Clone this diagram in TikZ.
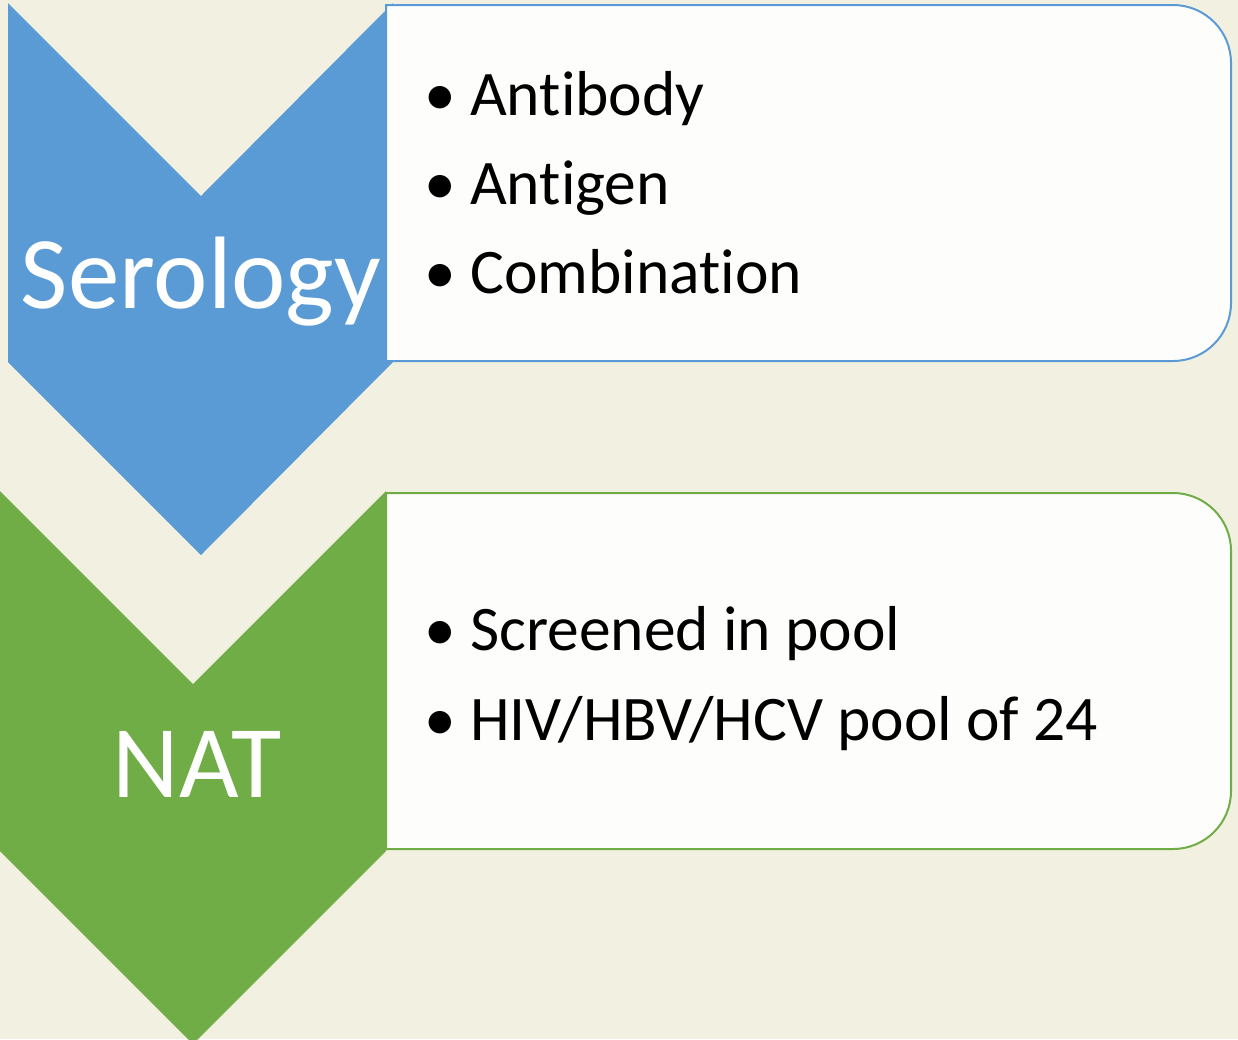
\documentclass[tikz,border=0pt]{standalone}
\usepackage{fontspec}
\setmainfont[Ligatures={NoCommon,NoContextual}]{Carlito}
\definecolor{bgbeige}{HTML}{F2F1E1}
\definecolor{serblue}{HTML}{5B9BD5}
\definecolor{natgreen}{HTML}{70AD47}
\definecolor{boxwhite}{HTML}{FDFDFC}
\tikzset{
  head/.style={text=white,font=\fontsize{103}{110}\selectfont,inner sep=0pt},
  item/.style={anchor=base west,font=\fontsize{63.5}{70}\selectfont,inner sep=0pt},
  dot/.style={anchor=base,font=\fontsize{63.5}{70}\selectfont,inner sep=0pt},
}

\begin{document}
\begin{tikzpicture}[x=1pt,y=-1pt]
\fill[bgbeige] (0,0) rectangle (1238,1039);
\useasboundingbox (0,0) rectangle (1238,1039);

% Serology
\fill[serblue] (8,3) -- (201,196) -- (393,3) -- (393,362) -- (201,555) -- (8,362) -- cycle;
\draw[serblue,line width=2pt,fill=boxwhite] (386,5) [rounded corners=58pt] -- (1231,5) -- (1231,361) [sharp corners] -- (386,361) -- cycle;
\node[head,anchor=base] (ser) at (201,308) {Serology};
\foreach \t [count=\i] in {Antibody,Antigen,Combination} {
  \node[dot] (serdot\i) at (440,{115+89*(\i-1)}) {\textbullet};
  \node[item] (seritem\i) at (470,{115+89*(\i-1)}) {\t};
}

% NAT
\fill[natgreen] (0,491) -- (193,684) -- (386,491) -- (386,851) -- (193,1044) -- (0,851) -- cycle;
\draw[natgreen,line width=2pt,fill=boxwhite] (386,493) [rounded corners=58pt] -- (1231,493) -- (1231,849) [sharp corners] -- (386,849) -- cycle;
\node[head,anchor=base] (nat) at (197,797) {NAT};
\foreach \t [count=\i] in {Screened in pool,HIV/HBV/HCV pool of 24} {
  \node[dot] (natdot\i) at (440,{650+90*(\i-1)}) {\textbullet};
  \node[item] (natitem\i) at (470,{650+90*(\i-1)}) {\t};
}
\end{tikzpicture}
\end{document}
